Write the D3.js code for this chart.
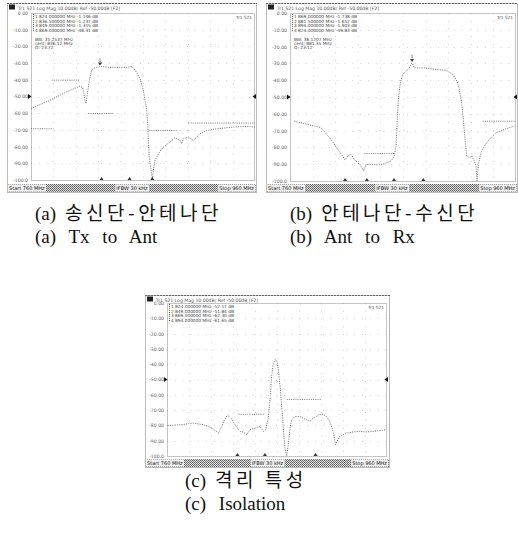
<!DOCTYPE html>
<html><head><meta charset="utf-8">
<script src="https://cdn.jsdelivr.net/npm/d3@7"></script>
<style>
html,body{margin:0;padding:0;background:#fff;}
svg{display:block;}
</style></head><body>
<svg id="fig" width="518" height="543"></svg>
<script>
// Sweep settings shared by the three S21 measurements
const sweepStart = 760, sweepStop = 960;          // MHz
const levelTop = 0, levelBottom = -100;            // dB
const levelTicks = [0, -10, -20, -30, -40, -50, -60, -70, -80, -90, -100];
const levelTickLabels = ["0.00", "-10.00", "-20.00", "-30.00", "-40.00", "-50.00",
                         "-60.00", "-70.00", "-80.00", "-90.00", "-100.0"];

// (a) Tx -> Ant
const txFreq = [760, 777.0, 791.8, 803.7, 806.1, 808.2, 809.1, 810.3, 812.7, 814.2, 817.1, 821.6, 830.5,
  845.4, 849.9, 852.9, 857.3, 860.3, 861.8, 863.3, 864.2, 864.8, 865.6, 866.8, 868.3, 869.2, 870.7,
  873.7, 878.1, 884.1, 888.6, 893.0, 894.5, 896.0, 900.5, 904.9, 910.9, 916.8, 925.8, 940.6, 952.5, 960];
const txLevel = [-57.2, -52.2, -47.2, -43.8, -44.6, -52.2, -54.2, -48.2, -38.2, -34.1, -32.7, -32.1, -32.5,
  -32.5, -32.1, -34.1, -39.2, -46.2, -52.2, -58.2, -66.3, -76.3, -86.3, -92.4, -99.5, -94.4, -88.4,
  -84.3, -80.3, -77.3, -74.7, -76.3, -78.3, -75.3, -74.3, -76.3, -72.3, -70.3, -69.3, -68.3, -67.9, -68.3];
const txLimitStart = [778.5, 811.2, 760, 865.6, 900.5];
const txLimitStop  = [803.7, 833.5, 780, 890.0, 960];
const txLimitLevel = [-40.2, -60.2, -69.3, -70.3, -65.9];
const txMarkerFreq = [821.6, 823.0, 848.0, 868.3];
const txMarkerLevel = [-32.1, -100, -100, -100];
const txReadout = ["1  824.000000 MHz  -1.146 dB", "2  836.500000 MHz  -1.237 dB",
  "3  849.000000 MHz  -1.315 dB", "4  869.000000 MHz  -48.31 dB"];
const txFilter = ["BW:  35.2537 MHz", "cent:  836.12 MHz", "Q:   23.72"];

// (b) Ant -> Rx
const rxFreq = [763.8, 775.6, 787.4, 796.3, 802.2, 806.6, 808.7, 811.0, 814.0, 816.9, 819.9, 822.8, 825.2,
  827.3, 831.7, 837.6, 843.5, 849.4, 852.3, 853.8, 854.7, 855.9, 857.6, 859.7, 862.7, 865.6, 868.0,
  870.0, 878.9, 890.7, 898.1, 904.0, 907.8, 909.9, 911.9, 913.4, 914.9, 916.4, 918.7, 920.8, 923.1,
  924.6, 925.5, 926.7, 929.0, 932.0, 936.4, 942.3, 949.7, 958.5];
const rxLevel = [-64.4, -66.3, -68.3, -75.2, -81.2, -85.1, -87.5, -85.1, -84.2, -87.1, -89.1, -91.1, -94.1,
  -90.1, -90.1, -90.5, -89.7, -88.1, -85.1, -79.2, -67.3, -51.5, -41.6, -36.6, -34.7, -32.7, -29.7,
  -32.7, -32.7, -33.7, -34.1, -36.6, -40.6, -45.5, -53.5, -63.4, -75.2, -85.1, -86.1, -85.1, -88.1,
  -91.1, -100, -90.1, -83.2, -79.2, -75.2, -71.3, -69.3, -67.3];
const rxLimitStart = [825.8, 930.5];
const rxLimitStop  = [852.3, 960];
const rxLimitLevel = [-83.6, -64.4];
const rxMarkerFreq = [868.0, 808.7, 828.0, 852.0, 878.0];
const rxMarkerLevel = [-29.7, -100, -100, -100, -100];
const rxReadout = ["1  869.000000 MHz  -1.738 dB", "2  881.500000 MHz  -1.652 dB",
  "3  894.000000 MHz  -1.903 dB", "4  824.000000 MHz  -49.83 dB"];
const rxFilter = ["BW:  38.1207 MHz", "cent:  881.35 MHz", "Q:   23.12"];

// (c) Tx <-> Rx isolation
const isoFreq = [760.6, 772.1, 784.2, 793.2, 800.8, 806.8, 809.8, 811.4, 815.0, 818.0, 821.9, 825.0, 826.5,
  829.5, 832.5, 835.5, 840.1, 844.6, 847.6, 849.7, 852.1, 853.7, 855.2, 856.7, 858.2, 859.7, 861.2,
  862.7, 864.2, 865.7, 867.2, 868.8, 870.3, 871.8, 873.3, 876.3, 880.8, 883.9, 886.9, 889.9, 892.9,
  895.9, 899.0, 902.0, 905.0, 908.0, 910.1, 911.6, 913.2, 914.7, 917.1, 920.1, 923.1, 929.2, 935.2,
  941.3, 947.3, 959.4];
const isoLevel = [-80.0, -79.6, -78.5, -79.6, -81.7, -85.0, -80.7, -77.4, -73.1, -75.3, -79.6, -82.8, -83.9,
  -84.3, -86.0, -82.8, -81.7, -80.7, -83.9, -82.8, -75.3, -62.4, -47.3, -39.8, -37.0, -37.6, -43.0,
  -53.8, -66.7, -81.7, -94.6, -100, -92.5, -81.7, -76.4, -74.2, -74.2, -75.3, -76.4, -77.4, -75.3,
  -74.2, -72.7, -72.7, -74.2, -77.4, -81.7, -86.0, -92.5, -90.3, -87.1, -86.0, -85.0, -84.3, -83.9,
  -84.3, -83.9, -82.8];
const isoLimitStart = [825.0, 868.8];
const isoLimitStop  = [849.1, 900.5];
const isoLimitLevel = [-72.7, -63.0];
const isoMarkerFreq = [824.0, 849.0, 895.0];
const isoMarkerLevel = [-100, -100, -100];
const isoReadout = ["1  824.000000 MHz  -52.17 dB", "2  849.000000 MHz  -51.84 dB",
  "3  869.000000 MHz  -62.30 dB", "4  894.000000 MHz  -61.65 dB"];

// Captions under each screen
const captionKo = ["송신단-안테나단", "안테나단-수신단", "격리 특성"];
const captionEn = ["Tx to Ant", "Ant to Rx", "Isolation"];
const captionTag = ["(a)", "(b)", "(c)"];

const statusText = ["Start 760 MHz", "IFBW 30 kHz", "Stop 960 MHz"];
const titleText = "Tr1 S21 Log Mag 10.00dB/ Ref -50.00dB [F2]";

// Screen frames and their plot areas (pixels)
const layout = [
  {x0: 7, y0: 3, x1: 257, y1: 193, px0: 31, py0: 13, px1: 255, py1: 180, cap: [35, 220, 243]},
  {x0: 266, y0: 3, x1: 518, y1: 193, px0: 290, py0: 13, px1: 516, py1: 181, cap: [290, 220, 243]},
  {x0: 145, y0: 295, x1: 390, y1: 468, px0: 167, py0: 303, px1: 387, py1: 456, cap: [185, 487, 510]}
];

const panels = [
  {freq: txFreq, level: txLevel, limS: txLimitStart, limE: txLimitStop, limL: txLimitLevel,
   mF: txMarkerFreq, mL: txMarkerLevel, readout: txReadout, filter: txFilter},
  {freq: rxFreq, level: rxLevel, limS: rxLimitStart, limE: rxLimitStop, limL: rxLimitLevel,
   mF: rxMarkerFreq, mL: rxMarkerLevel, readout: rxReadout, filter: rxFilter},
  {freq: isoFreq, level: isoLevel, limS: isoLimitStart, limE: isoLimitStop, limL: isoLimitLevel,
   mF: isoMarkerFreq, mL: isoMarkerLevel, readout: isoReadout, filter: null}
];

const svg = d3.select("#fig");
const defs = svg.append("defs");
const dither = defs.append("pattern").attr("id", "dither").attr("width", 2).attr("height", 2)
  .attr("patternUnits", "userSpaceOnUse");
dither.append("rect").attr("width", 2).attr("height", 2).attr("fill", "#e4e4e4");
dither.append("rect").attr("width", 1).attr("height", 1).attr("fill", "#555");
dither.append("rect").attr("x", 1).attr("y", 1).attr("width", 1).attr("height", 1).attr("fill", "#777");

const tiny = "'DejaVu Sans', sans-serif";

panels.forEach((p, i) => {
  const L = layout[i];
  const g = svg.append("g");
  const x = d3.scaleLinear().domain([sweepStart, sweepStop]).range([L.px0, L.px1]);
  const y = d3.scaleLinear().domain([levelTop, levelBottom]).range([L.py0, L.py1]);

  // screen frame
  g.append("rect").attr("x", L.x0 + 0.5).attr("y", L.y0 + 0.5)
    .attr("width", L.x1 - L.x0 - 1).attr("height", L.y1 - L.y0 - 1)
    .attr("fill", "#fff").attr("stroke", "#777").attr("stroke-dasharray", "1,1");
  g.append("line").attr("x1", L.x0).attr("x2", L.x1).attr("y1", L.y0 + 0.5).attr("y2", L.y0 + 0.5)
    .attr("stroke", "#666").attr("stroke-dasharray", "2,1");

  // title bar
  g.append("rect").attr("x", L.x0 + 2).attr("y", L.y0 + 1.5).attr("width", 6).attr("height", 5).attr("fill", "#222");
  g.append("text").attr("x", L.x0 + 11).attr("y", L.y0 + 6.5).text(titleText)
    .attr("font-family", tiny).attr("font-size", 4.6).attr("fill", "#555");

  // graticule
  const grid = g.append("g").attr("stroke", "#c8c8c8").attr("stroke-dasharray", "0.8,7");
  levelTicks.slice(1, -1).forEach(v => grid.append("line").attr("x1", L.px0).attr("x2", L.px1)
    .attr("y1", Math.round(y(v)) + 0.5).attr("y2", Math.round(y(v)) + 0.5));
  d3.range(1, 10).forEach(k => {
    const fx = Math.round(x(sweepStart + k * (sweepStop - sweepStart) / 10)) + 0.5;
    grid.append("line").attr("x1", fx).attr("x2", fx).attr("y1", L.py0).attr("y2", L.py1);
  });

  // plot area border
  g.append("rect").attr("x", L.px0 + 0.5).attr("y", L.py0 + 0.5)
    .attr("width", L.px1 - L.px0 - 1).attr("height", L.py1 - L.py0)
    .attr("fill", "none").attr("stroke", "#888").attr("stroke-dasharray", "1,1");

  // level axis labels
  const axis = d3.axisLeft(y).tickValues(levelTicks).tickSize(0).tickPadding(3)
    .tickFormat((d, k) => levelTickLabels[k]);
  const ag = g.append("g").attr("transform", `translate(${L.px0},0)`).call(axis);
  ag.select(".domain").remove();
  ag.selectAll("text").attr("font-family", tiny).attr("font-size", 4.6).attr("fill", "#666");

  // reference-level pointers
  g.append("path").attr("d", `M${L.px0 - 3},${y(-50) - 2.5}L${L.px0 + 0.5},${y(-50)}L${L.px0 - 3},${y(-50) + 2.5}Z`).attr("fill", "#111");
  g.append("path").attr("d", `M${L.px1 + 1},${y(-50) - 2.5}L${L.px1 - 2.5},${y(-50)}L${L.px1 + 1},${y(-50) + 2.5}Z`).attr("fill", "#111");

  // limit lines
  p.limS.forEach((s, k) => g.append("line")
    .attr("x1", x(s)).attr("x2", x(p.limE[k])).attr("y1", y(p.limL[k])).attr("y2", y(p.limL[k]))
    .attr("stroke", "#777").attr("stroke-dasharray", "1,1.2"));

  // measured trace
  const line = d3.line().x((d, k) => x(p.freq[k])).y(d => y(d));
  g.append("path").datum(p.level).attr("d", line).attr("fill", "none")
    .attr("stroke", "#707070").attr("stroke-width", 1).attr("stroke-dasharray", "1,1.3");

  // markers
  p.mF.forEach((f, k) => {
    const mx = x(f), my = y(p.mL[k]);
    const up = p.mL[k] <= levelBottom + 1;
    g.append("path").attr("d", up
        ? `M${mx - 2},${my}L${mx + 2},${my}L${mx},${my - 3}Z`
        : `M${mx - 2},${my - 4}L${mx + 2},${my - 4}L${mx},${my - 1}Z`)
      .attr("fill", "#333");
    if (!up) g.append("text").attr("x", mx).attr("y", my - 5).attr("text-anchor", "middle")
      .text(k + 1).attr("font-family", tiny).attr("font-size", 4.6).attr("fill", "#333");
  });

  // marker readouts
  const rx = L.px0 + 3;
  g.append("line").attr("x1", rx - 0.5).attr("x2", rx - 0.5).attr("y1", L.py0 + 1).attr("y2", L.py0 + 19)
    .attr("stroke", "#666").attr("stroke-dasharray", "1,1");
  p.readout.forEach((t, k) => g.append("text").attr("x", rx + 1).attr("y", L.py0 + 5 + k * 4.6).text(t)
    .attr("font-family", tiny).attr("font-size", 4.3).attr("fill", "#444"));
  if (p.filter) p.filter.forEach((t, k) => g.append("text").attr("x", rx + 1).attr("y", L.py0 + 28 + k * 4.2).text(t)
    .attr("font-family", tiny).attr("font-size", 4.3).attr("fill", "#444"));
  g.append("text").attr("x", L.px1 - 3).attr("y", L.py0 + 6).attr("text-anchor", "end").text("Tr1 S21")
    .attr("font-family", tiny).attr("font-size", 4.3).attr("fill", "#555");

  // status bar
  const sy = L.y1 - 9;
  g.append("rect").attr("x", L.x0 + 1).attr("y", sy).attr("width", L.x1 - L.x0 - 2).attr("height", 8)
    .attr("fill", "url(#dither)");
  const slots = [[L.x0 + 2, "start"], [(L.x0 + L.x1) / 2, "middle"], [L.x1 - 3, "end"]];
  slots.forEach(([sx, anchor], k) => {
    const t = g.append("text").attr("x", sx).attr("y", sy + 6).attr("text-anchor", anchor).text(statusText[k])
      .attr("font-family", tiny).attr("font-size", 5).attr("fill", "#111");
    const b = t.node().getBBox();
    g.insert("rect", () => t.node()).attr("x", b.x - 1).attr("y", sy + 0.5).attr("width", b.width + 2).attr("height", 7)
      .attr("fill", "#f2f2f2");
  });

  // captions
  const [cx, cy1, cy2] = L.cap;
  const c1 = svg.append("text").attr("x", cx).attr("y", cy1).attr("fill", "#111");
  c1.append("tspan").text(captionTag[i]).attr("font-family", "'Liberation Serif', serif").attr("font-size", 19);
  c1.append("tspan").attr("dx", 9).text(captionKo[i]).attr("font-family", "'Noto Sans CJK KR', sans-serif")
    .attr("font-size", 19).attr("letter-spacing", 3.5);
  svg.append("text").attr("x", cx).attr("y", cy2).attr("fill", "#111")
    .attr("font-family", "'Liberation Serif', serif").attr("font-size", 19).attr("word-spacing", 8)
    .text(captionTag[i] + " " + captionEn[i]);
});
</script>
</body></html>
